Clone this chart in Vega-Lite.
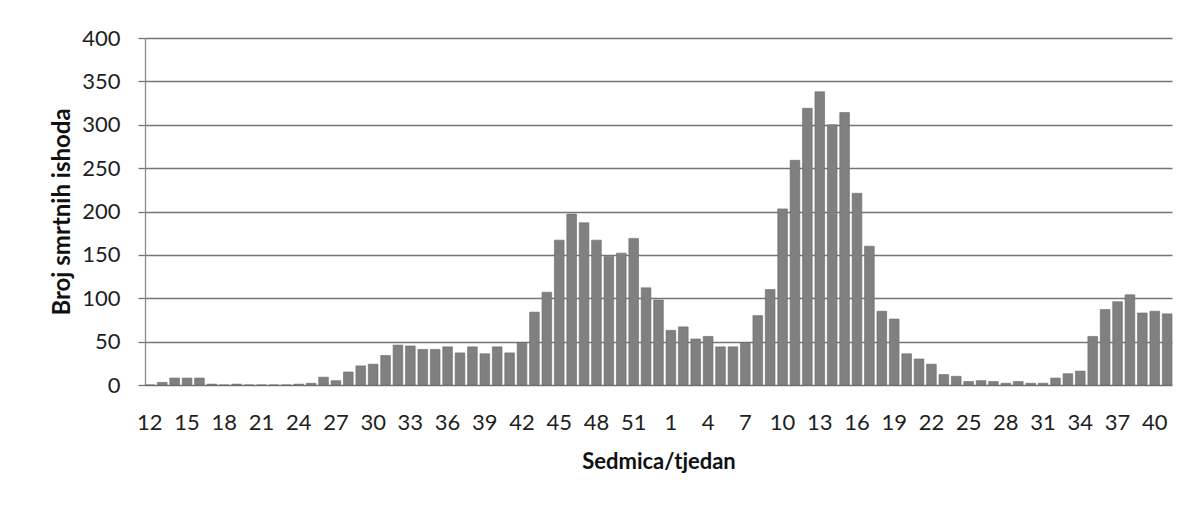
{
  "$schema": "https://vega.github.io/schema/vega-lite/v6.json",
  "autosize": {"type": "none"},
  "width": 1027,
  "height": 347,
  "padding": {"left": 145, "top": 38, "right": 18, "bottom": 122},
  "background": "white",
  "config": {"view": {"stroke": null}, "font": "Lato"},
  "data": {"values": [
    {"k": "2020-12", "v": 0}, {"k": "2020-13", "v": 3}, {"k": "2020-14", "v": 8}, {"k": "2020-15", "v": 8},
    {"k": "2020-16", "v": 8}, {"k": "2020-17", "v": 1}, {"k": "2020-18", "v": 0}, {"k": "2020-19", "v": 1},
    {"k": "2020-20", "v": 0}, {"k": "2020-21", "v": 0}, {"k": "2020-22", "v": 0}, {"k": "2020-23", "v": 0},
    {"k": "2020-24", "v": 1}, {"k": "2020-25", "v": 2}, {"k": "2020-26", "v": 9}, {"k": "2020-27", "v": 5},
    {"k": "2020-28", "v": 15}, {"k": "2020-29", "v": 22}, {"k": "2020-30", "v": 24}, {"k": "2020-31", "v": 34},
    {"k": "2020-32", "v": 46}, {"k": "2020-33", "v": 45}, {"k": "2020-34", "v": 41}, {"k": "2020-35", "v": 41},
    {"k": "2020-36", "v": 44}, {"k": "2020-37", "v": 37}, {"k": "2020-38", "v": 44}, {"k": "2020-39", "v": 36},
    {"k": "2020-40", "v": 44}, {"k": "2020-41", "v": 37}, {"k": "2020-42", "v": 49}, {"k": "2020-43", "v": 84},
    {"k": "2020-44", "v": 107}, {"k": "2020-45", "v": 167}, {"k": "2020-46", "v": 197}, {"k": "2020-47", "v": 187},
    {"k": "2020-48", "v": 167}, {"k": "2020-49", "v": 148}, {"k": "2020-50", "v": 152}, {"k": "2020-51", "v": 169},
    {"k": "2020-52", "v": 112}, {"k": "2020-53", "v": 98},
    {"k": "2021-1", "v": 63}, {"k": "2021-2", "v": 67}, {"k": "2021-3", "v": 53}, {"k": "2021-4", "v": 56},
    {"k": "2021-5", "v": 44}, {"k": "2021-6", "v": 44}, {"k": "2021-7", "v": 49}, {"k": "2021-8", "v": 80},
    {"k": "2021-9", "v": 110}, {"k": "2021-10", "v": 203}, {"k": "2021-11", "v": 259}, {"k": "2021-12", "v": 319},
    {"k": "2021-13", "v": 338}, {"k": "2021-14", "v": 300}, {"k": "2021-15", "v": 314}, {"k": "2021-16", "v": 221},
    {"k": "2021-17", "v": 160}, {"k": "2021-18", "v": 85}, {"k": "2021-19", "v": 76}, {"k": "2021-20", "v": 36},
    {"k": "2021-21", "v": 30}, {"k": "2021-22", "v": 24}, {"k": "2021-23", "v": 12}, {"k": "2021-24", "v": 10},
    {"k": "2021-25", "v": 4}, {"k": "2021-26", "v": 5}, {"k": "2021-27", "v": 4}, {"k": "2021-28", "v": 2},
    {"k": "2021-29", "v": 4}, {"k": "2021-30", "v": 2}, {"k": "2021-31", "v": 2}, {"k": "2021-32", "v": 8},
    {"k": "2021-33", "v": 13}, {"k": "2021-34", "v": 16}, {"k": "2021-35", "v": 56}, {"k": "2021-36", "v": 87},
    {"k": "2021-37", "v": 96}, {"k": "2021-38", "v": 104}, {"k": "2021-39", "v": 83}, {"k": "2021-40", "v": 85},
    {"k": "2021-41", "v": 82}
  ]},
  "mark": {"type": "bar", "color": "#808080", "stroke": "#6a6a6a", "strokeWidth": 0.6},
  "encoding": {
    "x": {
      "field": "k", "type": "ordinal", "sort": null,
      "scale": {"paddingInner": 0.22, "paddingOuter": 0},
      "axis": {
        "values": ["2020-12","2020-15","2020-18","2020-21","2020-24","2020-27","2020-30","2020-33","2020-36","2020-39","2020-42","2020-45","2020-48","2020-51","2021-1","2021-4","2021-7","2021-10","2021-13","2021-16","2021-19","2021-22","2021-25","2021-28","2021-31","2021-34","2021-37","2021-40"],
        "labelExpr": "split(datum.value, '-')[1]",
        "labelAngle": 0, "labelOverlap": false,
        "ticks": false, "tickSize": 0, "domain": false, "grid": false,
        "labelPadding": 27, "labelFontSize": 22, "labelColor": "#1e1e1e", "labelFont": "Lato",
        "title": "Sedmica/tjedan", "titleFont": "Lato", "titleFontSize": 22, "titleFontWeight": "bold",
        "titlePadding": 18, "titleColor": "#111111"
      }
    },
    "y": {
      "field": "v", "type": "quantitative",
      "scale": {"domain": [0, 400], "nice": false},
      "axis": {
        "values": [0, 50, 100, 150, 200, 250, 300, 350, 400],
        "grid": true, "gridColor": "#747474", "gridWidth": 1.3,
        "domainColor": "#8a8a8a", "domainWidth": 1.3,
        "tickColor": "#747474", "tickSize": 7, "tickWidth": 1.3,
        "labelPadding": 18, "labelFontSize": 22, "labelColor": "#1e1e1e", "labelFont": "Lato",
        "title": "Broj smrtnih ishoda", "titleFont": "Lato", "titleFontSize": 24, "titleFontWeight": "bold",
        "titlePadding": 7, "titleColor": "#111111"
      }
    }
  }
}
